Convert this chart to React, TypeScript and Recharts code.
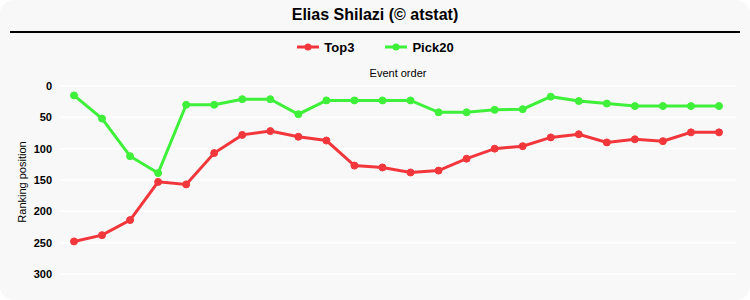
import React from 'react';
import { LineChart, Line, XAxis, YAxis, CartesianGrid } from 'recharts';

const events = ['1','2','3','4','5','6','7','8','9','10','11','12','13','14','15','16','17','18','19','20','21','22','23','24'];
const top3 = [248, 238, 214, 153, 157, 107, 78, 72, 81, 87, 127, 130, 138, 135, 116, 100, 96, 82, 77, 90, 85, 88, 74, 74];
const pick20 = [15, 52, 112, 139, 30, 30, 21, 21, 45, 23, 23, 23, 23, 42, 42, 38, 37, 17, 24, 28, 32, 32, 32, 32];
const yTicks = [0, 50, 100, 150, 200, 250, 300];

const RED = '#f2373c';
const GREEN = '#3ff03a';
const FONT = '"Liberation Sans", Arial, sans-serif';

const data = events.map((e, i) => ({ event: e, Top3: top3[i], Pick20: pick20[i] }));

const YLabel = (props: any) => {
  const vb = props.viewBox || {};
  const cx = 22;
  const cy = vb.y + vb.height / 2 + 2;
  return (
    <text x={cx} y={cy} transform={`rotate(-90 ${cx} ${cy})`} textAnchor="middle" dominantBaseline="central" fontSize={11} fill="#000" fontFamily={FONT}>
      Ranking position
    </text>
  );
};

const LegendItem = ({ color, label }: { color: string; label: string }) => (
  <span style={{ display: 'inline-flex', alignItems: 'center', margin: '0 15px' }}>
    <svg width={24} height={10} style={{ marginRight: 4 }}>
      <line x1={1} y1={5} x2={23} y2={5} stroke={color} strokeWidth={3} />
      <circle cx={12} cy={5} r={3.5} fill={color} />
    </svg>
    <span style={{ fontWeight: 'bold', fontSize: 13, color: '#000' }}>{label}</span>
  </span>
);

export default function App() {
  return (
    <div style={{ position: 'absolute', left: 0, top: 0, width: 750, height: 300, background: '#f8f8f8', borderRadius: 14, fontFamily: FONT, overflow: 'hidden' }}>
      <div style={{ position: 'absolute', left: 0, top: 6, width: 750, textAlign: 'center', fontWeight: 'bold', fontSize: 16, color: '#000' }}>
        Elias Shilazi (© atstat)
      </div>
      <div style={{ position: 'absolute', left: 10, top: 31, width: 730, height: 1.5, background: '#000' }} />
      <div style={{ position: 'absolute', left: 0, top: 38, width: 750, display: 'flex', justifyContent: 'center', alignItems: 'center', height: 18 }}>
        <LegendItem color={RED} label="Top3" />
        <LegendItem color={GREEN} label="Pick20" />
      </div>
      <div style={{ position: 'absolute', left: 0, top: 0 }}>
        <LineChart width={750} height={300} data={data} margin={{ top: 66, right: 14, left: 0, bottom: 26 }}>
          <CartesianGrid vertical={false} stroke="#ffffff" strokeWidth={1.5} />
          <XAxis
            dataKey="event"
            orientation="top"
            height={20}
            tick={false}
            tickLine={false}
            axisLine={false}
            padding={{ left: 14, right: 17 }}
            label={{ value: 'Event order', position: 'center', fontSize: 11, fill: '#000', fontFamily: FONT, dy: -3 }}
          />
          <YAxis
            reversed
            domain={[0, 300]}
            ticks={yTicks}
            width={60}
            tickLine={false}
            axisLine={false}
            interval={0}
            tick={{ fontSize: 11, fontWeight: 'bold', fill: '#000', fontFamily: FONT }}
            label={<YLabel />}
          />
          <Line type="linear" dataKey="Top3" stroke={RED} strokeWidth={3} dot={{ r: 3.5, fill: RED, stroke: RED, strokeWidth: 1 }} isAnimationActive={false} />
          <Line type="linear" dataKey="Pick20" stroke={GREEN} strokeWidth={3} dot={{ r: 3.5, fill: GREEN, stroke: GREEN, strokeWidth: 1 }} isAnimationActive={false} />
        </LineChart>
      </div>
    </div>
  );
}
